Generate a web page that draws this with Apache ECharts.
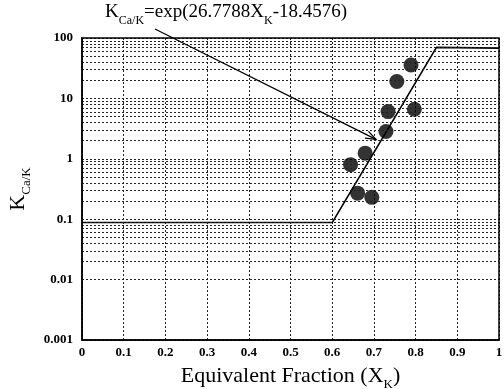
<!DOCTYPE html>
<html>
<head>
    <meta charset="utf-8">
    <title>K Ca/K</title>
    <script src="https://cdn.jsdelivr.net/npm/echarts@6/dist/echarts.min.js"></script>
</head>
<body style="margin:0">
    <div id="main" style="width: 504px;height:389px;"></div>
    <script type="text/javascript">
        // model line (flat - exponential - flat)
        var lineX = [0, 0.6, 0.85, 1];
        var lineY = [0.088, 0.088, 70, 68];
        // measured points
        var ptX = [0.789, 0.755, 0.797, 0.734, 0.729, 0.679, 0.644, 0.661, 0.695];
        var ptY = [35.8, 19, 6.6, 6.05, 2.83, 1.24, 0.80, 0.27, 0.23];
        // axis ticks
        var xTicks = ['0', '0.1', '0.2', '0.3', '0.4', '0.5', '0.6', '0.7', '0.8', '0.9', '1'];
        var yTicks = ['0.001', '0.01', '0.1', '1', '10', '100'];
        // arrow annotation (data space): from label to the line
        var arrowFrom = [0.175, 141];
        var arrowTo = [0.705, 2.1];

        var serif = '"Liberation Serif", "DejaVu Serif", serif';

        // minor log grid lines 2..9 in each decade
        var minor = [];
        for (var d = 0; d < yTicks.length - 1; d++) {
            for (var k = 2; k <= 9; k++) {
                minor.push({ yAxis: parseFloat(yTicks[d]) * k });
            }
        }

        var gridLine = { color: '#222', type: [2, 2], width: 1 };

        var myChart = echarts.init(document.getElementById('main'));

        var option = {
            animation: false,
            backgroundColor: '#fff',
            grid: { left: 82, right: 5, top: 38, bottom: 49, show: false, outerBoundsMode: 'none', containLabel: false },
            xAxis: {
                type: 'value', min: 0, max: 1, interval: 0.1,
                axisLine: { show: true, lineStyle: { color: '#000', width: 1.5 } },
                axisTick: { show: false },
                axisLabel: {
                    color: '#000', fontFamily: serif, fontWeight: 'bold', fontSize: 13, margin: 6,
                    formatter: function (v) { return xTicks[Math.round(v * 10)]; }
                },
                splitLine: { show: true, lineStyle: gridLine },
                name: '{a|Equivalent Fraction (X}{s|K}{a|)}',
                nameLocation: 'middle', nameGap: 21,
                nameTextStyle: {
                    rich: {
                        a: { fontFamily: serif, fontSize: 22, color: '#000' },
                        s: { fontFamily: serif, fontSize: 13, color: '#000', padding: [17, 0, 0, 0] }
                    }
                }
            },
            yAxis: {
                type: 'log', logBase: 10, min: 0.001, max: 100,
                axisLine: { show: true, lineStyle: { color: '#000', width: 1.5 } },
                axisTick: { show: false },
                axisLabel: {
                    color: '#000', fontFamily: serif, fontWeight: 'bold', fontSize: 13, margin: 9,
                    formatter: function (v) { return String(parseFloat(v.toPrecision(1))); }
                },
                splitLine: { show: true, lineStyle: gridLine },
                name: '{a|K}{s|Ca/K}',
                nameLocation: 'middle', nameGap: 44, nameRotate: 90,
                nameTextStyle: {
                    rich: {
                        a: { fontFamily: serif, fontSize: 22, color: '#000' },
                        s: { fontFamily: serif, fontSize: 13, color: '#000', padding: [17, 0, 0, 0] }
                    }
                }
            },
            series: [
                {
                    type: 'line',
                    data: [],
                    silent: true,
                    markLine: {
                        silent: true, symbol: ['none', 'none'], animation: false,
                        label: { show: false },
                        lineStyle: gridLine,
                        data: minor
                    }
                },
                {
                    type: 'line',
                    data: lineX.map(function (x, i) { return [x, lineY[i]]; }),
                    symbol: 'none',
                    lineStyle: { color: '#000', width: 1.6 },
                    z: 3
                },
                {
                    type: 'scatter',
                    data: ptX.map(function (x, i) { return [x, ptY[i]]; }),
                    symbolSize: 15,
                    itemStyle: { color: '#000' },
                    z: 4
                }
            ]
        };

        myChart.setOption(option);

        // frame, equation label and arrow
        var p0 = myChart.convertToPixel({ gridIndex: 0 }, arrowFrom);
        var p1 = myChart.convertToPixel({ gridIndex: 0 }, arrowTo);
        var ang = Math.atan2(p1[1] - p0[1], p1[0] - p0[0]);
        var hl = 11, hw = 0.35;
        var h1 = [p1[0] - hl * Math.cos(ang - hw), p1[1] - hl * Math.sin(ang - hw)];
        var h2 = [p1[0] - hl * Math.cos(ang + hw), p1[1] - hl * Math.sin(ang + hw)];

        myChart.setOption({
            graphic: [
                {
                    type: 'rect', z: 10, silent: true,
                    shape: { x: 82, y: 38, width: 417, height: 302 },
                    style: { fill: 'none', stroke: '#000', lineWidth: 1.5 }
                },
                {
                    type: 'line', z: 10, silent: true,
                    shape: { x1: p0[0], y1: p0[1], x2: p1[0], y2: p1[1] },
                    style: { stroke: '#000', lineWidth: 1.3 }
                },
                {
                    type: 'polyline', z: 10, silent: true,
                    shape: { points: [h1, p1, h2] },
                    style: { stroke: '#000', lineWidth: 1.3, fill: 'none' }
                },
                {
                    type: 'text', z: 10, left: 105, top: 3,
                    style: {
                        text: '{a|K}{s|Ca/K}{a|=exp(26.7788X}{s|K}{a|-18.4576)}',
                        rich: {
                            a: { fontFamily: serif, fontSize: 19, fill: '#000' },
                            s: { fontFamily: serif, fontSize: 12, fill: '#000', padding: [16, 0, 0, 0] }
                        }
                    }
                }
            ]
        });
    </script>
</body>
</html>
